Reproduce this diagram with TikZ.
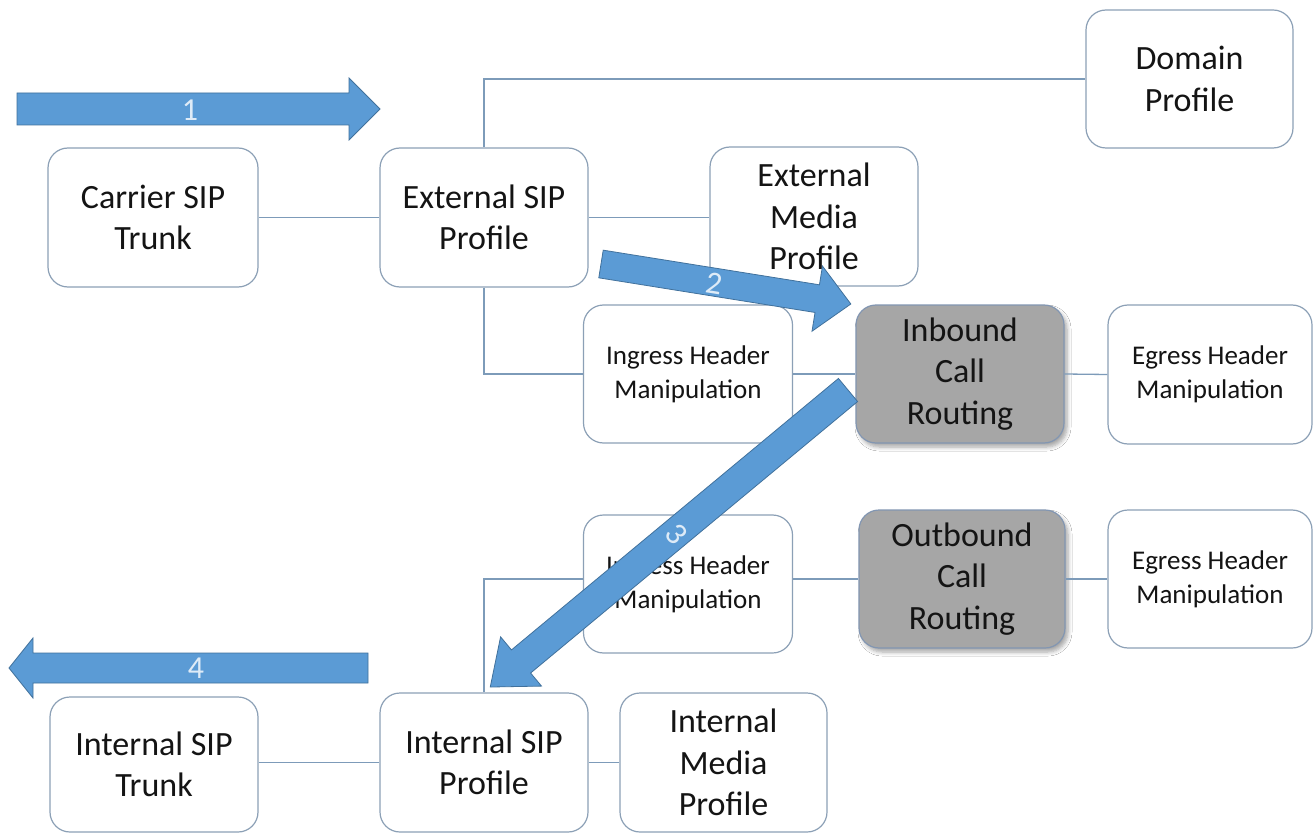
\documentclass[tikz,border=0pt]{standalone}
\usepackage{fontspec}
\setmainfont{Carlito}
\usetikzlibrary{shadows.blur}
\definecolor{boxline}{RGB}{140,160,182}
\definecolor{conn}{RGB}{125,155,185}
\definecolor{grayfill}{RGB}{166,166,166}
\definecolor{grayline}{RGB}{130,150,178}
\definecolor{arrowfill}{RGB}{91,155,213}
\definecolor{arrowline}{RGB}{65,113,156}
\definecolor{arrowtext}{RGB}{222,235,247}
\definecolor{textcol}{RGB}{20,20,20}
\newcommand{\barrow}[6]{% start, angle, length, shaft half width, head half width, head length
  \begin{scope}[shift={#1}, rotate=#2]
    \draw[blockarrow] (0,#4) -- ({#3-#6},#4) -- ({#3-#6},#5) -- (#3,0) -- ({#3-#6},-#5) -- ({#3-#6},-#4) -- (0,-#4) -- cycle;
  \end{scope}}
\begin{document}
\begin{tikzpicture}[x=1pt,y=-1pt,
  box/.style={draw=boxline, line width=1.2pt, rounded corners=20pt, fill=white,
    minimum width=208pt, minimum height=139pt, align=center, inner sep=0pt,
    text=textcol, font=\fontsize{34}{41.5}\selectfont},
  smallbox/.style={box, font=\fontsize{27}{34}\selectfont},
  graybox/.style={box, fill=grayfill, draw=grayline,
    blur shadow={shadow xshift=3pt, shadow yshift=-4pt, shadow opacity=35, shadow blur steps=6, shadow blur radius=4pt}},
  link/.style={draw=conn, line width=1.3pt},
  blockarrow/.style={fill=arrowfill, draw=arrowline, line width=0.8pt},
  arrowlabel/.style={text=arrowtext, font=\fontsize{32}{32}\selectfont, inner sep=0pt}]
\useasboundingbox[fill=white] (0,0) rectangle (1314,834);

% boxes
\node[box, minimum width=207pt, minimum height=138pt] (domain) at (1189.5,79) {Domain\\Profile};
\node[box, minimum width=210pt] (carrier) at (153,217.5) {Carrier SIP\\Trunk};
\node[box] (extsip) at (484,217.5) {External SIP\\Profile};
\node[box] (extmedia) at (814,216.5) {External\\Media\\Profile};
\node[smallbox, minimum width=209pt, minimum height=138pt] (ingress1) at (688,374) {Ingress Header\\Manipulation};
\node[graybox, minimum height=138pt] (inbound) at (960,374) {Inbound\\Call\\Routing};
\node[smallbox, minimum width=204pt] (egress1) at (1210,374.5) {Egress Header\\Manipulation};
\node[smallbox, minimum width=209pt, minimum height=138pt] (ingress2) at (688,584) {Ingress Header\\Manipulation};
\node[graybox, minimum width=206pt, minimum height=138pt] (outbound) at (962,579) {Outbound\\Call\\Routing};
\node[smallbox, minimum width=204pt, minimum height=138pt] (egress2) at (1210,579) {Egress Header\\Manipulation};
\node[box, minimum height=135pt] (intrunk) at (154,764.5) {Internal SIP\\Trunk};
\node[box] (intsip) at (484,762.5) {Internal SIP\\Profile};
\node[box, minimum width=207pt] (intmedia) at (723.5,762.5) {Internal\\Media\\Profile};

% connectors
\draw[link] (carrier.east) -- (carrier.east -| extsip.west);
\draw[link] (extsip.north) |- (domain.west);
\draw[link] (extsip.east) -- (extsip.east -| extmedia.west);
\draw[link] (extsip.south) |- (ingress1.west);
\draw[link] (ingress1.east) -- (inbound.west);
\draw[link] (inbound.east) -- (egress1.west);
\draw[link] (intsip.north) |- (ingress2.west |- outbound.west);
\draw[link] (ingress2.east |- outbound.west) -- (outbound.west);
\draw[link] (outbound.east) -- (egress2.west);
\draw[link] (intrunk.east |- intsip.west) -- (intsip.west);
\draw[link] (intsip.east) -- (intmedia.west);

% flow arrows
\barrow{(17,109)}{0}{363}{16}{31}{31}
\node[arrowlabel] (l1) at (190,110) {1};
\barrow{(601,264)}{-9.1}{253}{14}{33}{34}
\node[arrowlabel, rotate=-9] (l2) at (714,284) {2};
\barrow{(848,390)}{-140.3}{465}{15}{32}{40}
\node[arrowlabel, rotate=-50] (l3) at (677,534) {3};
\barrow{(368,668)}{180}{359}{15}{30}{24}
\node[arrowlabel] (l4) at (196,668) {4};
\end{tikzpicture}
\end{document}
